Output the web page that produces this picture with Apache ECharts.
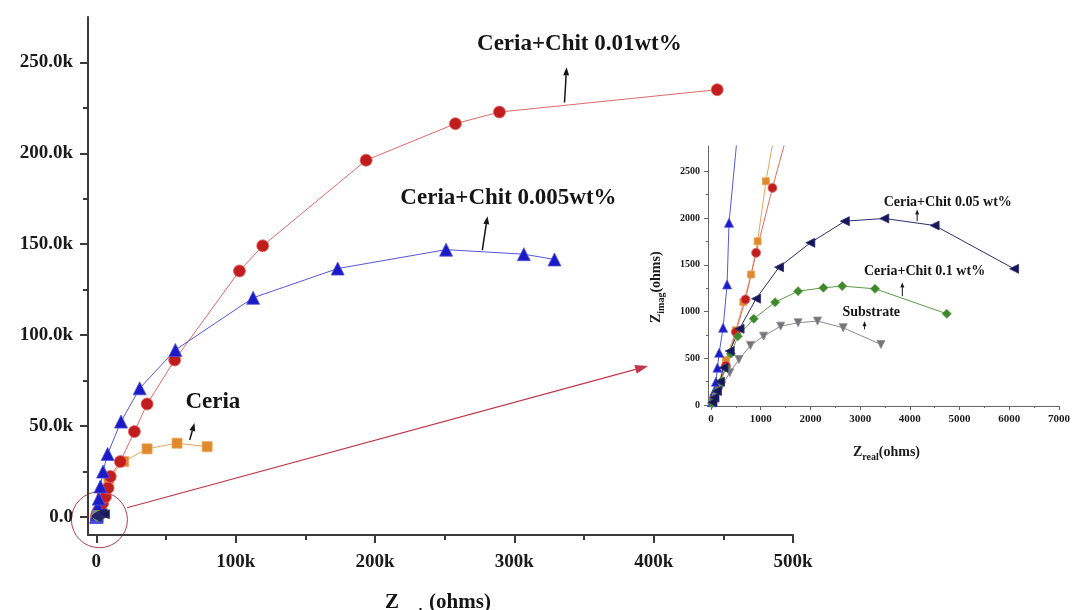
<!DOCTYPE html>
<html><head><meta charset="utf-8">
<script src="https://cdn.jsdelivr.net/npm/echarts@6/dist/echarts.min.js"></script>
<style>html,body{margin:0;padding:0;background:#fff}#c{width:1073px;height:610px}</style>
</head><body><div id="c"></div>
<script>
// ---- data (ohms): [Z_real, Z_imag] ----
const ceria = [[50,70],[150,230],[300,480],[500,800],[650,1100],[807,1396],[938,1752],[1105,2393],[4000,11000],[9000,21000],[19600,30400],[36400,37400],[57900,40500],[79500,38600]];
const chit001 = [[60,70],[150,200],[300,420],[500,780],[694,1129],[907,1628],[1236,2322],[2000,3800],[4500,7500],[6500,11000],[8400,15900],[10000,22200],[17200,30400],[27300,46900],[36400,62100],[56200,86300],[102700,135300],[119400,149100],[193600,196200],[257700,216300],[289300,222700],[445600,235000]];
const chit0005 = [[20,30],[40,80],[70,150],[100,250],[130,400],[165,560],[244,827],[324,1290],[363,1949],[1000,5500],[1700,10000],[2900,16700],[4800,24900],[8100,34600],[17700,52400],[31100,70700],[56700,91800],[112500,120500],[173200,136600],[251000,147000],[306800,144500],[328800,141600]];
const substrate = [[20,10],[80,30],[99,82],[212,203],[377,346],[562,488],[794,638],[1058,737],[1402,844],[1752,880],[2143,898],[2659,827],[3419,648]];
const chit01 = [[20,20],[60,60],[120,150],[200,250],[300,400],[400,550],[542,737],[860,923],[1290,1100],[1752,1218],[2262,1254],[2639,1272],[3300,1243],[4742,976]];
const chit005 = [[30,30],[70,80],[120,150],[180,250],[250,400],[377,577],[575,816],[907,1137],[1369,1474],[1998,1735],[2692,1966],[3486,1995],[4498,1920],[6097,1457]];

// ---- tick values ----
const mainXTicks = [0,100000,200000,300000,400000,500000];
const mainXMinor = [50000,150000,250000,350000,450000];
const mainYTicks = [0,50000,100000,150000,200000,250000];
const mainYMinor = [25000,75000,125000,175000,225000];
const insetXTicks = [0,1000,2000,3000,4000,5000,6000,7000];
const insetXMinor = [500,1500,2500,3500,4500,5500,6500];
const insetYTicks = [0,500,1000,1500,2000,2500];
const insetYMinor = [250,750,1250,1750,2250];

// ---- labels ----
const labels = {
  c001: 'Ceria+Chit 0.01wt%', c0005: 'Ceria+Chit 0.005wt%', ceria: 'Ceria',
  c005: 'Ceria+Chit 0.05 wt%', c01: 'Ceria+Chit 0.1 wt%', sub: 'Substrate'
};

const serif = '"Liberation Serif","DejaVu Serif",serif';
const chart = echarts.init(document.getElementById('c'));

const sty = {
  ceria:   {symbol:'rect', rot:0, color:'#e0892a', line:'#e9a45a', ms:10, is:7},
  c001:    {symbol:'circle', rot:0, color:'#c21d1d', line:'#e06a6a', ms:12, is:9},
  c0005:   {symbol:'triangle', rot:0, color:'#1a1ac6', line:'#5656dc', ms:13, is:9},
  sub:     {symbol:'triangle', rot:180, color:'#74747a', line:'#8a8a90', ms:9, is:8},
  c01:     {symbol:'diamond', rot:0, color:'#3c892a', line:'#5b9a48', ms:9, is:9},
  c005:    {symbol:'triangle', rot:90, color:'#16165c', line:'#2c2c6c', ms:9, is:9}
};
const order = [['ceria',ceria],['c001',chit001],['c0005',chit0005],['sub',substrate],['c01',chit01],['c005',chit005]];

const series = [];
order.forEach(([k,d]) => {
  const s = sty[k];
  [0,1].forEach(g => {
    series.push({
      type:'line', name:labels[k]+(g?' (inset)':''), data:d,
      xAxisIndex: g?2:0, yAxisIndex: g?2:0,
      symbol:s.symbol, symbolRotate:s.rot, symbolSize: g?s.is:s.ms,
      showAllSymbol:true, clip:true, animation:false, silent:true,
      lineStyle:{color:s.line, width:1},
      itemStyle:{color:s.color, borderColor:s.line, borderWidth:0.8, opacity:1}
    });
  });
});

function axisLbl(size){return {color:'#1a1a1a', fontFamily:serif, fontWeight:'bold', fontSize:size};}

const option = {
  animation:false,
  backgroundColor:'#fff',
  grid:[
    {left:88, top:17, width:705, height:518},
    {left:708, top:146, width:356, height:260}
  ],
  xAxis:[
    {gridIndex:0, type:'value', min:-6000, max:500000, splitLine:{show:false},
     axisLine:{show:true, onZero:false, lineStyle:{color:'#3a3a3a', width:2}},
     axisTick:{show:true, customValues:mainXTicks, length:8, lineStyle:{color:'#3a3a3a', width:2}},
     axisLabel:{...axisLbl(19), customValues:mainXTicks, margin:18,
       formatter:v=> v===0?'0':(v/1000)+'k'}},
    {gridIndex:0, type:'value', min:-6000, max:500000, position:'bottom', splitLine:{show:false},
     axisLine:{show:false, onZero:false},
     axisTick:{show:true, customValues:mainXMinor, length:5, lineStyle:{color:'#3a3a3a', width:2}},
     axisLabel:{show:false}},
    {gridIndex:1, type:'value', min:-60, max:7000, splitLine:{show:false},
     axisLine:{show:true, onZero:false, lineStyle:{color:'#666', width:1}},
     axisTick:{show:true, customValues:insetXTicks, length:4, lineStyle:{color:'#666'}},
     axisLabel:{...axisLbl(11), customValues:insetXTicks, margin:8, formatter:v=>String(v)}},
    {gridIndex:1, type:'value', min:-60, max:7000, position:'bottom', splitLine:{show:false},
     axisLine:{show:false, onZero:false},
     axisTick:{show:true, customValues:insetXMinor, length:2, lineStyle:{color:'#666'}},
     axisLabel:{show:false}}
  ],
  yAxis:[
    {gridIndex:0, type:'value', min:-10000, max:275000, splitLine:{show:false},
     axisLine:{show:true, onZero:false, lineStyle:{color:'#3a3a3a', width:2}},
     axisTick:{show:true, customValues:mainYTicks, length:8, lineStyle:{color:'#3a3a3a', width:2}},
     axisLabel:{...axisLbl(19), customValues:mainYTicks, margin:15,
       formatter:v=> v===0?'0.0':(v/1000).toFixed(1)+'k'}},
    {gridIndex:0, type:'value', min:-10000, max:275000, position:'left', splitLine:{show:false},
     axisLine:{show:false, onZero:false},
     axisTick:{show:true, customValues:mainYMinor, length:5, lineStyle:{color:'#3a3a3a', width:2}},
     axisLabel:{show:false}},
    {gridIndex:1, type:'value', min:-10, max:2770, splitLine:{show:false},
     axisLine:{show:true, onZero:false, lineStyle:{color:'#666', width:1}},
     axisTick:{show:true, customValues:insetYTicks, length:4, lineStyle:{color:'#666'}},
     axisLabel:{...axisLbl(10), customValues:insetYTicks, margin:8, formatter:v=>String(v)}},
    {gridIndex:1, type:'value', min:-10, max:2770, position:'left', splitLine:{show:false},
     axisLine:{show:false, onZero:false},
     axisTick:{show:true, customValues:insetYMinor, length:2, lineStyle:{color:'#666'}},
     axisLabel:{show:false}}
  ],
  series: series
};
chart.setOption(option);

// ---- annotations, placed in data coordinates ----
const mainNotes = [
  {text:labels.c001, at:[346700,259900], from:[336000,228000], to:[337500,247300], size:23},
  {text:labels.c0005, at:[295800,175300], from:[277000,146700], to:[280700,165400], size:23},
  {text:labels.ceria, at:[83600,63400], from:[67000,42300], to:[70400,51600], size:23}
];
const insetNotes = [
  {text:labels.c005, at:[4762,2162], from:[4147,1966], to:[4147,2091], size:14},
  {text:labels.c01, at:[4296,1432], from:[3849,1165], to:[3849,1311], size:14},
  {text:labels.sub, at:[3224,994], from:[3089,809], to:[3089,897], size:14}
];
function px(g, p){ return chart.convertToPixel({xAxisIndex:g?2:0, yAxisIndex:g?2:0}, p); }
function arrow(p0, p1, color, lw, hl, hw){
  const dx=p1[0]-p0[0], dy=p1[1]-p0[1], L=Math.hypot(dx,dy), ux=dx/L, uy=dy/L;
  const bx=p1[0]-ux*hl, by=p1[1]-uy*hl;
  return [
    {type:'line', silent:true, shape:{x1:p0[0],y1:p0[1],x2:bx,y2:by}, style:{stroke:color,lineWidth:lw}},
    {type:'polygon', silent:true, shape:{points:[p1,[bx-uy*hw,by+ux*hw],[bx+uy*hw,by-ux*hw]]}, style:{fill:color}}
  ];
}
const gfx = [];
[[0,mainNotes],[1,insetNotes]].forEach(([g,notes])=>{
  notes.forEach(n=>{
    const c = px(g,n.at);
    gfx.push({type:'text', silent:true, x:c[0], y:c[1], style:{text:n.text, fontFamily:serif, fontWeight:'bold', fontSize:n.size, fill:'#151515', align:'center', verticalAlign:'middle'}});
    gfx.push(...arrow(px(g,n.from), px(g,n.to), '#151515', g?1:1.5, g?5:8, g?2:3));
  });
});
// zoom circle around origin and pointer to inset
const oc = px(0,[2200,-1600]);
gfx.push({type:'circle', silent:true, shape:{cx:oc[0], cy:oc[1], r:28}, style:{fill:null, stroke:'#b04050', lineWidth:1}});
gfx.push(...arrow(px(0,[22000,5000]), px(0,[396000,83000]), '#c03848', 1.2, 13, 4.5));
// main x-axis title
gfx.push({type:'text', silent:true, x:392, y:603, style:{text:'Z', fontFamily:serif, fontWeight:'bold', fontSize:21, fill:'#151515', align:'center', verticalAlign:'middle'}});
gfx.push({type:'text', silent:true, x:401, y:607, style:{text:'real', fontFamily:serif, fontWeight:'bold', fontSize:13, fill:'#151515', align:'left', verticalAlign:'top'}});
gfx.push({type:'text', silent:true, x:460, y:603, style:{text:'(ohms)', fontFamily:serif, fontWeight:'bold', fontSize:21, fill:'#151515', align:'center', verticalAlign:'middle'}});
// inset axis titles
const rich = {z:{fontFamily:serif, fontWeight:'bold', fontSize:14, fill:'#1a1a1a', verticalAlign:'middle', lineHeight:20},
              s:{fontFamily:serif, fontWeight:'bold', fontSize:10, fill:'#1a1a1a', verticalAlign:'bottom', lineHeight:20}};
const xt = px(1,[3530,-10]);
gfx.push({type:'text', silent:true, x:xt[0], y:xt[1]+46, style:{text:'{z|Z}{s|real}{z|(ohms)}', rich:rich, align:'center', verticalAlign:'middle'}});
const yt = px(1,[-60,1260]);
gfx.push({type:'text', silent:true, x:yt[0]-52, y:yt[1], rotation:Math.PI/2, style:{text:'{z|Z}{s|imag}{z|(ohms)}', rich:rich, align:'center', verticalAlign:'middle'}});
chart.setOption({graphic:gfx});
</script></body></html>
